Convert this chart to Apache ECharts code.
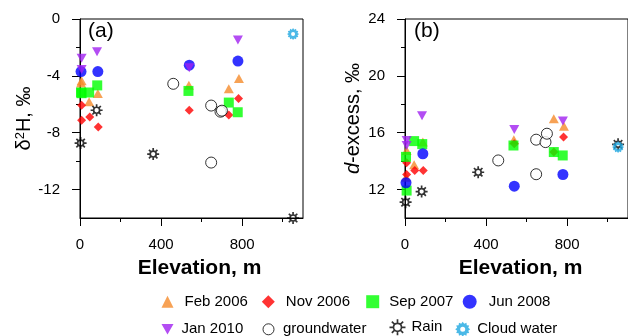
<!DOCTYPE html>
<html>
<head>
<meta charset="utf-8">
<script src="https://cdn.jsdelivr.net/npm/echarts@6/dist/echarts.min.js"></script>
<style>
  html, body { margin: 0; padding: 0; background: #fff; }
  #chart { width: 628px; height: 336px; }
</style>
</head>
<body>
<div id="chart"></div>
<script>
// ---- data (elevation m, delta2H permil, d-excess permil) ----
var febElev = [5, 8, 45, 88, 537, 734, 784];
var febH    = [-4.5, -4.35, -5.83, -5.24, -4.66, -4.9, -4.19];
var febD    = [12.87, 14.75, 13.75, 15.34, 15.51, 16.99, 16.45];

var novElev = [8, 8, 48, 90, 539, 734, 782];
var novH    = [-6.07, -7.13, -6.9, -7.6, -6.42, -6.75, -5.6];
var novD    = [13.89, 13.06, 13.34, 13.34, 15.23, 14.64, 15.7];

var sepElev = [5, 8, 45, 85, 535, 734, 778];
var sepH    = [-5.17, -5.22, -5.17, -4.67, -5.06, -5.88, -6.56];
var sepD    = [14.3, 11.93, 15.41, 15.2, 15.1, 14.64, 14.4];

var junElev = [5, 88, 539, 779];
var junH    = [-3.7, -3.7, -3.25, -2.96];
var junD    = [12.48, 14.52, 12.24, 13.06];

var janElev = [8, 8, 84, 539, 779];
var janH    = [-2.77, -3.55, -2.31, -3.43, -1.48];
var janD    = [15.46, 15.1, 17.2, 16.23, 16.82];

var gwElev = [460, 647, 647, 693, 700];
var gwH    = [-4.56, -6.09, -10.1, -6.52, -6.45];
var gwD    = [14.05, 15.51, 13.08, 15.34, 15.93];

var rainElev = [3, 82, 361, 1051];
var rainH    = [-8.73, -6.42, -9.5, -14.0];
var rainD    = [11.11, 11.86, 13.22, 15.18];

var cloudElev = [1051];
var cloudH    = [-1.06];
var cloudD    = [14.99];

var xMajor = [0, 400, 800];
var xMinor = [200, 600, 1000];
var hMajor = [-12, -8, -4, 0];
var hMinor = [-10, -6, -2];
var dMajor = [12, 16, 20, 24];
var dMinor = [14, 18, 22];

var FONT = '"Liberation Sans", Arial, Helvetica, sans-serif';

function pairs(xs, ys) {
  return xs.map(function (x, i) { return [x, ys[i]]; });
}

// sun-like rain symbol: ring plus 8 rays
function sunPath() {
  var p = 'M 3 0 A 3 3 0 1 1 -3 0 A 3 3 0 1 1 3 0 Z';
  for (var i = 0; i < 8; i++) {
    var a = i * Math.PI / 4;
    p += ' M ' + (3 * Math.cos(a)).toFixed(2) + ' ' + (3 * Math.sin(a)).toFixed(2) +
         ' L ' + (6 * Math.cos(a)).toFixed(2) + ' ' + (6 * Math.sin(a)).toFixed(2);
  }
  return 'path://' + p;
}
// serrated disc with a hole for cloud water
function gearPath() {
  var n = 12, p = '';
  for (var i = 0; i < n * 2; i++) {
    var a = i * Math.PI / n;
    var r = (i % 2 === 0) ? 6 : 4.6;
    p += (i === 0 ? 'M ' : ' L ') + (r * Math.cos(a)).toFixed(2) + ' ' + (r * Math.sin(a)).toFixed(2);
  }
  p += ' Z M 2 0 A 2 2 0 1 0 -2 0 A 2 2 0 1 0 2 0 Z';
  return 'path://' + p;
}
var SUN = sunPath();
var GEAR = gearPath();
var DOWN = 'path://M -5 0 L 5 0 L 0 8.66 Z';

var styles = [
  { name: 'Feb 2006', elev: febElev, h: febH, d: febD, symbol: 'triangle', size: [10, 9],
    itemStyle: { color: '#F58B2A' } },
  { name: 'Nov 2006', elev: novElev, h: novH, d: novD, symbol: 'diamond', size: 9,
    itemStyle: { color: '#FF0000' } },
  { name: 'Sep 2007', elev: sepElev, h: sepH, d: sepD, symbol: 'rect', size: 10,
    itemStyle: { color: '#00FF00' } },
  { name: 'Jun 2008', elev: junElev, h: junH, d: junD, symbol: 'circle', size: 11,
    itemStyle: { color: '#0000FF' } },
  { name: 'Jan 2010', elev: janElev, h: janH, d: janD, symbol: DOWN, size: [10, 9],
    itemStyle: { color: '#A020F0' } },
  { name: 'groundwater', elev: gwElev, h: gwH, d: gwD, symbol: 'circle', size: 11,
    itemStyle: { color: '#fff', borderColor: '#000', borderWidth: 1 } },
  { name: 'Rain', elev: rainElev, h: rainH, d: rainD, symbol: SUN, size: 12,
    itemStyle: { color: 'none', borderColor: '#000', borderWidth: 1.7 } },
  { name: 'Cloud water', elev: cloudElev, h: cloudH, d: cloudD, symbol: GEAR, size: 12,
    itemStyle: { color: '#1EA7E1' } }
];

var series = [];
styles.forEach(function (s) {
  [0, 1].forEach(function (gi) {
    series.push({
      name: s.name,
      type: 'scatter',
      xAxisIndex: gi,
      yAxisIndex: gi,
      data: pairs(s.elev, gi === 0 ? s.h : s.d),
      symbol: s.symbol,
      symbolSize: s.size,
      itemStyle: s.itemStyle,
      clip: false,
      silent: true
    });
  });
});

// one legend per item so every entry sits where the reference puts it
var legendSpec = [
  // name, left, top, icon size, text pad, border
  ['Feb 2006', 161.5, 294.2, 12, 6],
  ['Nov 2006', 261.8, 294.2, 13, 6],
  ['Sep 2007', 366.2, 294.2, 13, 5],
  ['Jun 2008', 462.7, 294.2, 14, 7],
  ['Jan 2010', 161.5, 321.8, 12, 3],
  ['groundwater', 262.5, 321.8, 11, 4, 1],
  ['Rain', 387, 316.8, 16, 1, 1.7],
  ['Cloud water', 455.2, 321.8, 15, 2]
];
var legends = legendSpec.map(function (l) {
  var lg = {
    data: [l[0]],
    left: l[1],
    top: l[2],
    orient: 'horizontal',
    itemWidth: l[3],
    itemHeight: l[3],
    itemGap: 0,
    padding: 0,
    selectedMode: false,
    textStyle: { fontFamily: FONT, fontSize: 15, color: '#000', padding: [0, 0, 0, l[4]] }
  };
  if (l[5]) lg.itemStyle = { borderWidth: l[5] };
  return lg;
});

function xAxes(gi, shift) {
  return [{
    type: 'value', gridIndex: gi, min: 0, max: 1100, position: 'bottom',
    name: 'Elevation, m', nameLocation: 'middle', nameGap: 40,
    nameTextStyle: { fontFamily: FONT, fontSize: 21, fontWeight: 'bold', color: '#000', padding: [0, 0, 0, shift] },
    axisLine: { show: true, onZero: false, lineStyle: { color: '#000', width: 1 } },
    axisTick: { show: true, length: 8, customValues: xMajor, lineStyle: { color: '#000' } },
    axisLabel: { show: true, customValues: xMajor, margin: 19, fontFamily: FONT, fontSize: 15, color: '#000' },
    splitLine: { show: false }
  }, {
    type: 'value', gridIndex: gi, min: 0, max: 1100, position: 'bottom', offset: 0,
    axisLine: { show: false, onZero: false },
    axisTick: { show: true, length: 4, customValues: xMinor, lineStyle: { color: '#000' } },
    axisLabel: { show: false },
    splitLine: { show: false }
  }];
}

function yAxes(gi, min, max, major, minor, name, rich, gap) {
  return [{
    type: 'value', gridIndex: gi, min: min, max: max, position: 'left',
    name: name, nameLocation: 'middle', nameRotate: 90, nameGap: gap,
    nameTextStyle: { fontFamily: FONT, fontSize: 20, color: '#000', rich: rich },
    axisLine: { show: true, onZero: false, lineStyle: { color: '#000', width: 1 } },
    axisTick: { show: true, length: 8, customValues: major, lineStyle: { color: '#000' } },
    axisLabel: { show: true, customValues: major, margin: 20, fontFamily: FONT, fontSize: 15, color: '#000' },
    splitLine: { show: false }
  }, {
    type: 'value', gridIndex: gi, min: min, max: max, position: 'left', offset: 0,
    axisLine: { show: false, onZero: false },
    axisTick: { show: true, length: 4, customValues: minor, lineStyle: { color: '#000' } },
    axisLabel: { show: false },
    splitLine: { show: false }
  }];
}

var xa = xAxes(0, 16), xb = xAxes(1, 8);
var ya = yAxes(0, -14, 0, hMajor, hMinor, '{a|δ}{s|2}{a|H, ‰}', {
  a: { fontFamily: FONT, fontSize: 20, color: '#000' },
  s: { fontFamily: FONT, fontSize: 13, color: '#000', verticalAlign: 'top', padding: [0, 0, 8, 0] }
}, 44);
var yb = yAxes(1, 10, 24, dMajor, dMinor, '{i|d}{a|-excess, ‰}', {
  a: { fontFamily: FONT, fontSize: 20, color: '#000' },
  i: { fontFamily: FONT, fontSize: 20, color: '#000', fontStyle: 'italic' }
}, 42);

var option = {
  animation: false,
  backgroundColor: '#fff',
  grid: [
    { left: 80, top: 19, width: 223, height: 199, show: true, borderColor: '#000', borderWidth: 1, backgroundColor: 'transparent' },
    { left: 405, top: 19, width: 223.5, height: 199, show: true, borderColor: '#000', borderWidth: 1, backgroundColor: 'transparent' }
  ],
  // main axes first so series index 0/1 map onto them
  xAxis: [xa[0], xb[0], xa[1], xb[1]],
  yAxis: [ya[0], yb[0], ya[1], yb[1]],
  legend: legends,
  series: series,
  graphic: [
    { type: 'text', left: 88, top: 21, style: { text: '(a)', fontFamily: FONT, fontSize: 21, fill: '#000' } },
    { type: 'text', left: 414, top: 21, style: { text: '(b)', fontFamily: FONT, fontSize: 21, fill: '#000' } }
  ]
};

var chart = echarts.init(document.getElementById('chart'));
chart.setOption(option);
</script>
</body>
</html>
